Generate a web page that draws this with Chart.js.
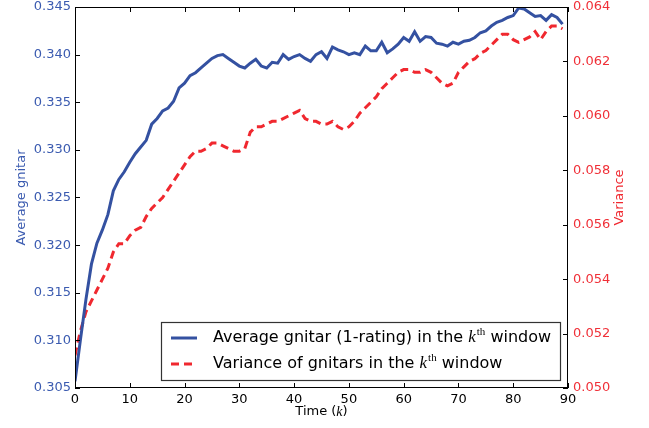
<!DOCTYPE html>
<html>
<head>
<meta charset="utf-8">
<script src="https://cdn.jsdelivr.net/npm/chart.js@4"></script>
<style>
  html, body { margin: 0; padding: 0; background: #fff; }
  canvas { display: block; }
</style>
</head>
<body>
<canvas id="myChart" width="649" height="428"></canvas>
<script>
// time window k
let steps = [0,1,2,3,4,5,6,7,8,9,10,11,12,13,14,15,16,17,18,19,
             20,21,22,23,24,25,26,27,28,29,30,31,32,33,34,35,36,37,38,39,
             40,41,42,43,44,45,46,47,48,49,50,51,52,53,54,55,56,57,58,59,
             60,61,62,63,64,65,66,67,68,69,70,71,72,73,74,75,76,77,78,79,
             80,81,82,83,84,85,86,87,88,89];

// average gnitar (left axis)
let avgGnitar = [0.3057,0.3101,0.3143,0.3180,0.3202,0.3216,0.3232,0.3257,0.3269,0.3277,
                 0.3287,0.3296,0.3303,0.3310,0.3327,0.3333,0.3341,0.3344,0.3351,0.3365,
                 0.3370,0.3378,0.3381,0.3386,0.3391,0.3396,0.3399,0.3400,0.3396,0.3392,
                 0.3388,0.3386,0.3391,0.3395,0.3388,0.3386,0.3392,0.3391,0.3400,0.3395,
                 0.3398,0.3400,0.3396,0.3393,0.3400,0.3403,0.3396,0.3408,0.3405,0.3403,
                 0.3400,0.3402,0.3400,0.3409,0.3404,0.3404,0.3413,0.3402,0.3406,0.3411,
                 0.3418,0.3414,0.3424,0.3414,0.3419,0.3418,0.3412,0.3411,0.3409,0.3413,
                 0.3411,0.3414,0.3415,0.3418,0.3423,0.3425,0.3430,0.3434,0.3436,0.3439,
                 0.3441,0.3449,0.3448,0.3444,0.3440,0.3441,0.3436,0.3442,0.3439,0.3432];

// variance of gnitars (right axis)
let varGnitar = [0.0512,0.0521,0.0528,0.0532,0.0536,0.0540,0.0544,0.0550,0.0553,0.0553,
                 0.0556,0.0558,0.0559,0.0563,0.0566,0.0568,0.0570,0.0573,0.0576,0.0579,
                 0.0582,0.0585,0.0587,0.0587,0.0588,0.0590,0.0590,0.0589,0.0588,0.0587,
                 0.0587,0.0588,0.0594,0.0596,0.0596,0.0597,0.0598,0.0598,0.0599,0.0600,
                 0.0601,0.0602,0.0599,0.0598,0.0598,0.0597,0.0597,0.0598,0.0596,0.0595,
                 0.0596,0.0598,0.0601,0.0603,0.0605,0.0607,0.0610,0.0612,0.0614,0.0616,
                 0.0617,0.0617,0.0616,0.0616,0.0617,0.0616,0.0614,0.0612,0.0611,0.0612,
                 0.0616,0.0618,0.0620,0.0621,0.0623,0.0624,0.0626,0.0628,0.0630,0.0630,
                 0.0628,0.0627,0.0628,0.0629,0.0631,0.0628,0.0631,0.0633,0.0633,0.0632];

let xTicks = [0,10,20,30,40,50,60,70,80,90];
let leftTicks = [0.305,0.310,0.315,0.320,0.325,0.330,0.335,0.340,0.345];
let rightTicks = [0.050,0.052,0.054,0.056,0.058,0.060,0.062,0.064];

let blue = '#3451a1';
let blueText = '#3b5bb0';
let red = '#f0282f';
let redText = '#f03038';
let font = '"DejaVu Sans", sans-serif';

// writes a piece of text that contains an italic k with superscript th
function drawKText(ctx, before, after, x, y, size, sup) {
    ctx.textBaseline = 'middle';
    ctx.textAlign = 'left';
    ctx.font = size + 'px ' + font;
    ctx.fillText(before, x, y);
    x += ctx.measureText(before).width;
    ctx.font = 'italic ' + (size + 1) + 'px "Liberation Serif"';
    ctx.fillText('k', x, y);
    x += ctx.measureText('k').width;
    if (sup) {
        ctx.font = Math.round(size * 0.7) + 'px "Liberation Serif"';
        ctx.fillText('th', x + 1, y - size * 0.38);
        x += ctx.measureText('th').width + 1;
    }
    ctx.font = size + 'px ' + font;
    ctx.fillText(after, x, y);
}

function kTextWidth(ctx, before, after, size, sup) {
    ctx.font = size + 'px ' + font;
    let w = ctx.measureText(before).width + ctx.measureText(after).width;
    ctx.font = 'italic ' + (size + 1) + 'px "Liberation Serif"';
    w += ctx.measureText('k').width;
    if (sup) {
        ctx.font = Math.round(size * 0.7) + 'px "Liberation Serif"';
        w += ctx.measureText('th').width + 1;
    }
    return w;
}

//frame, inward ticks, legend and extra titles
const framePlugin = {
    id: 'frame',
    afterDraw(chart) {
        const ctx = chart.ctx;
        const a = chart.chartArea;
        const sx = chart.scales.x, sy = chart.scales.y, sy2 = chart.scales.y2;
        ctx.save();
        ctx.strokeStyle = '#000';
        ctx.lineWidth = 1;
        ctx.beginPath();
        sx.ticks.forEach(t => {
            let px = Math.round(sx.getPixelForValue(t.value)) + 0.5;
            ctx.moveTo(px, a.bottom); ctx.lineTo(px, a.bottom - 5);
            ctx.moveTo(px, a.top); ctx.lineTo(px, a.top + 5);
        });
        sy.ticks.forEach(t => {
            let py = Math.round(sy.getPixelForValue(t.value)) + 0.5;
            ctx.moveTo(a.left, py); ctx.lineTo(a.left + 5, py);
        });
        sy2.ticks.forEach(t => {
            let py = Math.round(sy2.getPixelForValue(t.value)) + 0.5;
            ctx.moveTo(a.right, py); ctx.lineTo(a.right - 5, py);
        });
        ctx.stroke();
        ctx.strokeRect(Math.round(a.left) + 0.5, Math.round(a.top) + 0.5,
                       Math.round(a.right - a.left) - 1, Math.round(a.bottom - a.top) - 1);

        // legend
        let lx = 161.5, ly = 322.5, lw = 399, lh = 58;
        ctx.fillStyle = '#fff';
        ctx.fillRect(lx, ly, lw, lh);
        ctx.strokeStyle = '#333';
        ctx.lineWidth = 1.2;
        ctx.strokeRect(lx, ly, lw, lh);

        ctx.lineWidth = 3;
        ctx.strokeStyle = blue;
        ctx.beginPath(); ctx.moveTo(171, 338); ctx.lineTo(197, 338); ctx.stroke();
        ctx.strokeStyle = red;
        ctx.setLineDash([8, 5]);
        ctx.beginPath(); ctx.moveTo(171, 364); ctx.lineTo(197, 364); ctx.stroke();
        ctx.setLineDash([]);

        ctx.fillStyle = '#000';
        drawKText(ctx, 'Average gnitar (1-rating) in the ', ' window', 213, 338, 16, true);
        drawKText(ctx, 'Variance of gnitars in the ', ' window', 213, 364, 16, true);

        // x title
        let w = kTextWidth(ctx, 'Time (', ')', 13, false);
        drawKText(ctx, 'Time (', ')', (a.left + a.right) / 2 - w / 2, 412, 13, false);

        // right title
        ctx.save();
        ctx.translate(620, (a.top + a.bottom) / 2);
        ctx.rotate(-Math.PI / 2);
        ctx.fillStyle = red;
        ctx.font = '13px ' + font;
        ctx.textAlign = 'center';
        ctx.textBaseline = 'middle';
        ctx.fillText('Variance', 0, 0);
        ctx.restore();

        ctx.restore();
    }
};

let avgPoints = steps.map((k, i) => ({x: k, y: avgGnitar[i]}));
let varPoints = steps.map((k, i) => ({x: k, y: varGnitar[i]}));

// fixed axis sizes so the plot box sits where the reference has it
function fitY(width) {
    return s => { s.width = width; s.paddingTop = 7; s.paddingBottom = 0; };
}

let config = {
    type: 'line',
    data: {
        datasets: [{
            label: 'Average gnitar',
            data: avgPoints,
            yAxisID: 'y',
            borderColor: blue,
            borderWidth: 3,
            pointRadius: 0,
            tension: 0,
            fill: false
        }, {
            label: 'Variance',
            data: varPoints,
            yAxisID: 'y2',
            borderColor: red,
            borderWidth: 3,
            borderDash: [8, 5],
            pointRadius: 0,
            tension: 0,
            fill: false
        }]
    },
    options: {
        responsive: false,
        animation: false,
        devicePixelRatio: 1,
        layout: { padding: 0 },
        plugins: {
            legend: { display: false },
            tooltip: { enabled: false }
        },
        scales: {
            x: {
                type: 'linear',
                min: 0, max: 90,
                afterBuildTicks: s => { s.ticks = xTicks.map(v => ({value: v})); },
                afterFit: s => { s.height = 40; s.paddingLeft = 0; s.paddingRight = 0; },
                grid: { display: false, drawTicks: false },
                border: { display: false },
                ticks: { color: '#000', font: { family: font, size: 13 }, padding: 4, maxRotation: 0 }
            },
            y: {
                position: 'left',
                min: 0.305, max: 0.345,
                afterBuildTicks: s => { s.ticks = leftTicks.map(v => ({value: v})); },
                afterFit: fitY(75),
                grid: { display: false, drawTicks: false },
                border: { display: false },
                ticks: {
                    color: blueText, font: { family: font, size: 13 }, padding: 4,
                    callback: v => v.toFixed(3)
                },
                title: {
                    display: true, text: 'Average gnitar', color: blueText,
                    font: { family: font, size: 13 }, padding: { top: 14, bottom: 0 }
                }
            },
            y2: {
                position: 'right',
                min: 0.050, max: 0.064,
                afterBuildTicks: s => { s.ticks = rightTicks.map(v => ({value: v})); },
                afterFit: fitY(81),
                grid: { display: false, drawTicks: false },
                border: { display: false },
                ticks: {
                    color: redText, font: { family: font, size: 13 }, padding: 5,
                    callback: v => v.toFixed(3)
                }
            }
        }
    },
    plugins: [framePlugin]
};

let myChart = new Chart(document.getElementById('myChart'), config);
</script>
</body>
</html>
